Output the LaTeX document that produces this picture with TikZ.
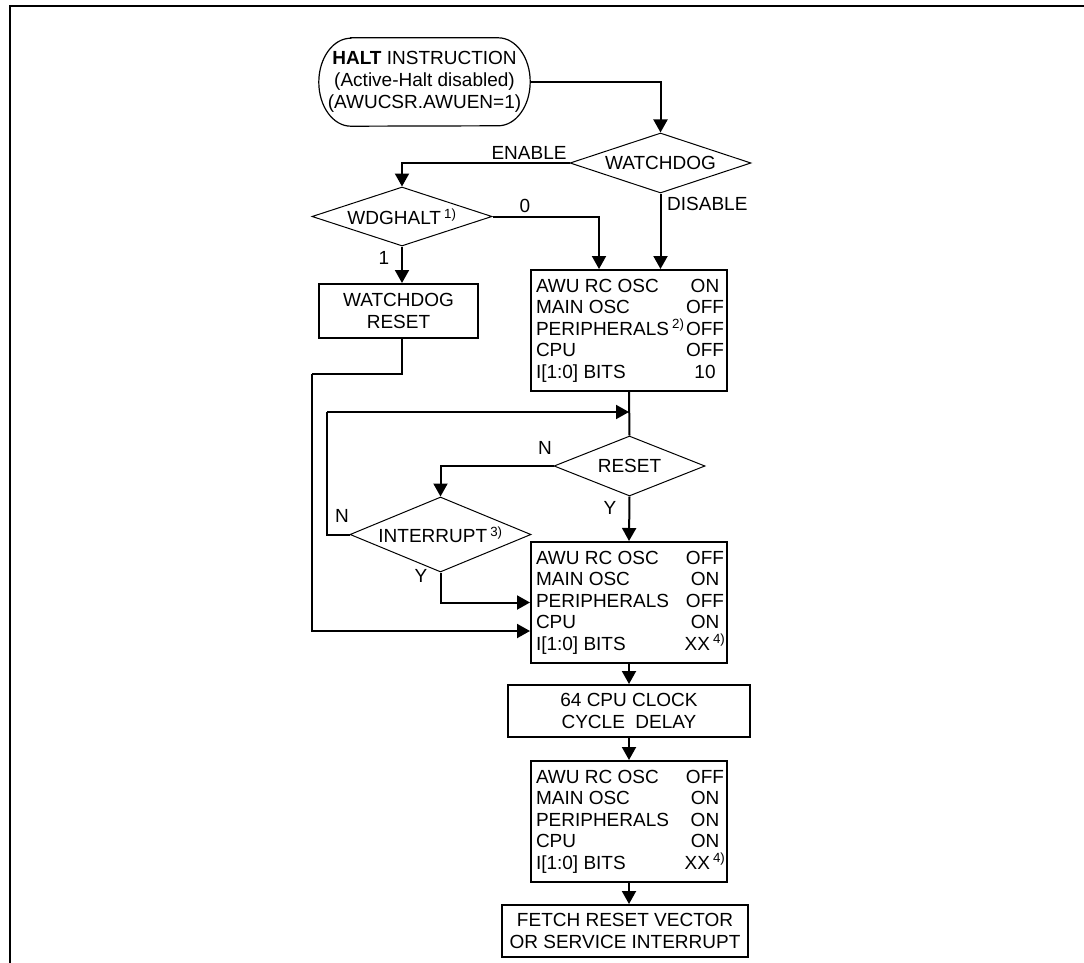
\documentclass[tikz,border=0pt]{standalone}
\usepackage{fontspec}
\setmainfont{Liberation Sans}
\usetikzlibrary{shapes.geometric,arrows.meta,calc}
\newcommand{\stline}[2]{\hspace*{5pt}\makebox[147pt][l]{#1}\makebox[44pt]{#2}}
\begin{document}
\begin{tikzpicture}[x=1pt,y=1pt,
  every node/.style={font=\fontsize{19}{21.5}\selectfont},
  conn/.style={line width=2pt},
  arr/.style={line width=2pt,-{Triangle[width=14pt,length=13pt]}},
  stbox/.style={draw,line width=2pt,rectangle,inner sep=0pt,align=center},
  tbox/.style={draw,line width=2pt,rectangle,inner sep=0pt,align=left,minimum height=121pt},
  dec/.style={diamond,draw,line width=1pt,inner sep=0pt,shape aspect=3},
  lbl/.style={inner sep=0pt}]
\useasboundingbox (0,0) rectangle (1084,-963);
% frame
\draw[line width=2pt] (10,-963) -- (10,-6) -- (1084,-6);

% start terminator
\node[rectangle,minimum width=211pt,minimum height=88pt,inner sep=0pt,align=center,
  font=\fontsize{19}{22}\selectfont] (start) at (424.5,-82)
  {\textbf{HALT} INSTRUCTION\\(Active-Halt disabled)\\(AWUCSR.AWUEN=1)};
\draw[line width=1.2pt] ([xshift=32pt]start.north west) -- ([xshift=-32pt]start.north east)
  arc[start angle=90,end angle=-90,x radius=32pt,y radius=44pt]
  -- ([xshift=32pt]start.south west)
  arc[start angle=270,end angle=90,x radius=32pt,y radius=44pt] -- cycle;

% decisions
\node[dec,minimum width=181pt,minimum height=60pt] (wd) at (660.5,-163) {WATCHDOG};
\node[dec,minimum width=180pt,minimum height=59pt] (wdg) at (402,-216.5) {WDGHALT\,\textsuperscript{1)}};
\node[dec,minimum width=151pt,minimum height=60pt] (rst) at (629.5,-466) {RESET};
\node[dec,minimum width=181pt,minimum height=75pt] (int) at (440.5,-534.5) {INTERRUPT\,\textsuperscript{3)}};

% boxes
\node[stbox,minimum width=159pt,minimum height=54pt] (wdr) at (398.5,-311) {WATCHDOG\\RESET};
\node[tbox] (b1) at (629,-330.5) {\stline{AWU RC OSC}{ON}\\\stline{MAIN OSC}{OFF}\\\stline{PERIPHERALS\,\textsuperscript{2)}}{OFF}\\\stline{CPU}{OFF}\\\stline{I[1:0] BITS}{10}};
\node[tbox] (b2) at (629,-602.5) {\stline{AWU RC OSC}{OFF}\\\stline{MAIN OSC}{ON}\\\stline{PERIPHERALS}{OFF}\\\stline{CPU}{ON}\\\stline{I[1:0] BITS}{XX\,\textsuperscript{4)}}};
\node[stbox,minimum width=242pt,minimum height=52pt] (dly) at (629,-711) {64 CPU CLOCK\\CYCLE\ \ DELAY};
\node[tbox] (b4) at (629,-821.5) {\stline{AWU RC OSC}{OFF}\\\stline{MAIN OSC}{ON}\\\stline{PERIPHERALS}{ON}\\\stline{CPU}{ON}\\\stline{I[1:0] BITS}{XX\,\textsuperscript{4)}}};
\node[stbox,minimum width=246pt,minimum height=52pt] (fetch) at (625,-931) {FETCH RESET VECTOR\\OR SERVICE INTERRUPT};

% helper coordinates
\coordinate (c1) at (312,-374);
\coordinate (c2) at (327,-412);

% connectors
\draw[arr] (start.east) -| (wd.north);
\draw[arr] (wd.west) -| (wdg.north);
\draw[arr] (wd.south) -- (wd.south |- b1.north);
\draw[arr] (wdg.east) -| ([xshift=-30pt]b1.north);
\draw[arr] (wdg.south) -- (wdg.south |- wdr.north);
\draw[conn] (wdg.south |- wdr.south) |- (c1);
\draw[arr] (c1) |- ([yshift=-28.5pt]b2.west);
\draw[conn] (b1.south) -- (rst.north);
\draw[arr] (rst.west) -| (int.north);
\draw[arr] (rst.south) -- (b2.north);
\draw[arr] (int.south) |- (b2.west);
\draw[conn] (int.west) -| (c2);
\draw[arr] (c2) -- (b1.south |- c2);
\draw[arr] (b2.south) -- (dly.north);
\draw[arr] (dly.south) -- (dly.south |- b4.north);
\draw[arr] (b4.south) -- (b4.south |- fetch.north);

% labels
\node[lbl] (lenable) at (529,-153) {ENABLE};
\node[lbl,anchor=west] (ldisable) at (667,-204) {DISABLE};
\node[lbl] (l0) at (525,-206) {0};
\node[lbl] (l1) at (384,-258) {1};
\node[lbl] (lnr) at (545,-448) {N};
\node[lbl] (lyr) at (610,-508) {Y};
\node[lbl] (lni) at (342,-516) {N};
\node[lbl] (lyi) at (421,-576) {Y};
\end{tikzpicture}
\end{document}
